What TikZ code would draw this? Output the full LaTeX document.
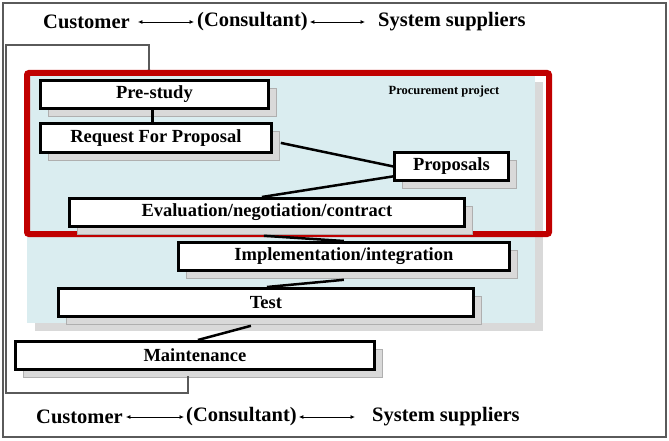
\documentclass[tikz,border=0pt]{standalone}
\usepackage{fontspec}
\setmainfont{Liberation Serif}
\usepackage{xcolor}
\usepackage{tikz}
\usetikzlibrary{arrows.meta, positioning, shadows, calc}

\definecolor{projred}{RGB}{192,0,0}
\definecolor{panelblue}{RGB}{218,237,240}
\definecolor{shadowgray}{RGB}{217,217,217}
\definecolor{edgegray}{RGB}{175,175,175}
\definecolor{framegray}{RGB}{90,90,90}

\begin{document}
\begin{tikzpicture}[
  x=1pt, y=-1pt,
  every node/.style={inner sep=0pt},
  party/.style={anchor=west, font=\bfseries\fontsize{20.5}{22}\selectfont},
  stage/.style={draw, line width=2.8pt, fill=white, anchor=north west, minimum height=28pt,
    font=\bfseries\fontsize{18.5}{20}\selectfont,
    general shadow={fill=shadowgray, draw=edgegray, line width=0.7pt, shadow xshift=8pt, shadow yshift=-8pt}},
  link/.style={line width=2.5pt},
  duo/.style={{Latex[length=4.5pt,width=4pt]}-{Latex[length=4.5pt,width=4pt]}, line width=0.8pt},
  feedback/.style={-{Latex[length=4pt,width=4pt]}, framegray, line width=1.1pt}
]
\useasboundingbox (0,0) rectangle (669,441);
\draw[framegray, line width=1.2pt] (3,3) rectangle (666,437);

% who talks to whom
\node[party] (cust1) at (43,22) {Customer};
\node[party] (cons1) at (197,22) {(Consultant)};
\node[party] (supp1) at (378,22) {System suppliers};
\draw[duo] ([xshift=8pt]cust1.east) -- ([xshift=-3pt]cons1.west);
\draw[duo] ([xshift=2pt]cons1.east) -- ([xshift=-13pt]supp1.west);

\node[party] (cust2) at (36,417) {Customer};
\node[party] (cons2) at (186,417) {(Consultant)};
\node[party] (supp2) at (372,417) {System suppliers};
\draw[duo] ([xshift=3pt]cust2.east) -- ([xshift=-2pt]cons2.west);
\draw[duo] ([xshift=2pt]cons2.east) -- ([xshift=-17pt]supp2.west);

% project area
\node[anchor=north west, fill=panelblue, minimum width=508pt, minimum height=249pt,
  general shadow={fill=shadowgray, shadow xshift=8pt, shadow yshift=-8pt}] (area) at (27,74) {};

\node[stage, minimum width=359pt] (maint) at (14,340) {Maintenance};
\coordinate (fb) at (188,376);
\coordinate (fbtop) at (149,45);
\draw[feedback] (fb) |- (6,393) |- (fbtop) -- (fbtop |- area.north);

\node[draw=projred, line width=6pt, rounded corners=2pt, anchor=north west,
  minimum width=522pt, minimum height=161pt] (proj) at (24,70) {};
\node[font=\bfseries\fontsize{12.5}{14}\selectfont] (projlabel) at (444,91) {Procurement project};

\node[stage, minimum width=228pt] (pre) at (39,79) {Pre-study};
\node[stage, minimum width=231pt, minimum height=29pt] (rfp) at (39,122) {Request For Proposal};
\node[stage, minimum width=114pt] (prop) at (393,151) {Proposals};
\node[stage, minimum width=395pt] (eval) at (68,197) {Evaluation/negotiation/contract};
\node[stage, minimum width=331pt] (impl) at (177,241) {Implementation/integration};
\node[stage, minimum width=415pt] (test) at (57,287) {Test};

\draw[link] ([xshift=-2pt]pre.south) -- ([xshift=-2pt]pre.south |- rfp.north);
\draw[link] ([shift={(8pt,-5pt)}]rfp.east) -- (prop.west);
\draw[link] ([yshift=-10pt]prop.west) -- ([xshift=-5pt]eval.north);
\draw[link] ([shift={(-3pt,-8pt)}]eval.south) -- (impl.north);
\draw[link] ([yshift=-8pt]impl.south) -- ([xshift=1pt]test.north);
\draw[link] ([shift={(-15pt,-8pt)}]test.south) -- ([xshift=3pt]maint.north);

\end{tikzpicture}
\end{document}
